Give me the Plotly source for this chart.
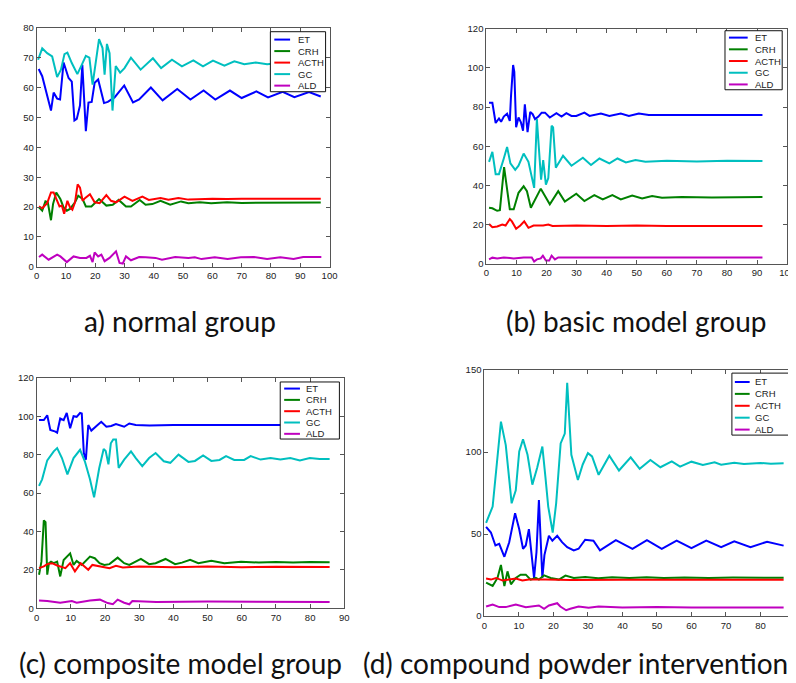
import plotly.graph_objects as go

W, H = 796, 683

names = ["ET", "CRH", "ACTH", "GC", "ALD"]
colors = ["#0000ff", "#008000", "#ff0000", "#00bfbf", "#bf00bf"]

# ---------------- panel a) normal group ----------------
a_et_x = [0.7, 1.9, 4.9, 5.8, 7, 8, 9.2, 10.9, 12, 12.9, 13.7, 14.8, 15.6, 16.8, 17.7, 18.8, 19.8, 21, 23, 24.3, 26.6, 29.9, 32.9, 35, 39, 43, 48, 52.5, 57, 61, 66, 70, 75, 79, 84, 88, 93, 97]
a_et_y = [66.2, 63.8, 52.3, 58.3, 56.3, 56, 68.4, 63.2, 62, 49, 49.5, 54, 67.6, 45.4, 55, 55.2, 61.6, 62.7, 54.8, 55.2, 56.7, 60.7, 55, 56, 60, 55.7, 59.5, 56, 59, 56, 59, 56.5, 58.7, 56.7, 58.6, 56.8, 58.5, 57]
a_crh_x = [0.8, 1.9, 3, 3.8, 4.9, 5.6, 6.7, 8.1, 9.2, 10.3, 11.4, 13.1, 14.2, 15.7, 16.8, 18.7, 21.3, 23.8, 26, 28, 30.5, 32.2, 35.2, 37.2, 39.5, 42.3, 45.6, 49.3, 51.8, 55.7, 59.6, 65, 70, 97]
a_crh_y = [19.9, 18.8, 21.9, 21.6, 15.6, 21, 24.9, 22.7, 19.9, 18.8, 19.4, 21.6, 23.8, 22.7, 20.2, 20.2, 22.7, 20.5, 20.8, 22.4, 20.2, 20.2, 22.4, 20.8, 21, 22.1, 20.8, 21.9, 21.3, 21.6, 21.3, 21.6, 21.4, 21.5]
a_acth_x = [0.8, 1.9, 3.6, 4.9, 5.8, 7, 7.8, 8.6, 9.4, 10.5, 11.4, 12.2, 13.1, 14, 14.8, 15.7, 16.5, 18.2, 19.8, 21.5, 23.8, 25.4, 27.1, 30, 32.7, 36.1, 38.3, 42.3, 45, 48.4, 51.8, 55, 60, 65, 70, 97]
a_acth_y = [20.2, 19.6, 21.3, 24.9, 24.9, 21.9, 20.2, 20.5, 17.8, 22.1, 19.9, 19.1, 21.6, 27.6, 26.5, 22.1, 23, 24.3, 21.6, 21.3, 24, 22.1, 21.6, 23.5, 22.1, 23.5, 22.4, 23, 22.5, 23, 22.5, 22.6, 22.8, 22.7, 22.8, 22.8]
a_gc_x = [0.5, 1.9, 3.6, 5.3, 7, 8.3, 9.5, 10.5, 12, 13.9, 15.4, 16.8, 18, 19.1, 21.3, 22.5, 23.2, 24, 24.9, 25.9, 27, 28.5, 30, 32.2, 35.5, 39.7, 42.5, 46.2, 49.6, 53.5, 56.8, 60.2, 64.1, 67.5, 70.9, 74.8, 78.7, 83, 87, 91, 97]
a_gc_y = [69.3, 73.1, 71.5, 70.4, 63.5, 66, 71.2, 71.7, 68.2, 64.5, 67.6, 70.6, 70, 61, 76.2, 73.2, 64.3, 74.6, 71.5, 52.3, 67.2, 65, 66.5, 70, 66, 69.8, 66.5, 69.3, 67.1, 69.1, 67.1, 69, 67.3, 68.8, 67.8, 68.4, 67.8, 68.2, 67.9, 68.1, 68]
a_ald_x = [0.8, 1.9, 4.1, 7, 8.1, 10.3, 12.6, 14.8, 17, 18.2, 19.1, 19.8, 21, 22.1, 23.2, 24.9, 27.1, 28.3, 29.4, 30.5, 32.2, 35, 37.2, 40.6, 42.8, 47.3, 51.8, 54, 56.3, 60.8, 65.2, 69.7, 74.2, 78.7, 83.2, 87.7, 91, 97.2]
a_ald_y = [3.3, 4.1, 2.4, 4.1, 3.5, 1.6, 3.5, 3, 3, 3.7, 1.6, 4.8, 3.5, 4.1, 1.9, 3, 5.2, 1.3, 1.1, 3.5, 2.2, 3.3, 3.2, 3, 2.4, 3.3, 3, 3.2, 2.6, 3.2, 2.6, 3.2, 3.3, 2.6, 3.2, 2.6, 3.3, 3.3]

# ---------------- panel b) basic model group ----------------
b_et_x = [0.9, 2, 3.1, 4.2, 4.9, 5.8, 6.9, 7.8, 8.2, 8.9, 9.3, 9.9, 10.7, 11.5, 12.2, 12.8, 13.7, 14.6, 15.4, 16.2, 17.3, 18.4, 19.5, 21.1, 23.3, 25, 26.6, 28.3, 29.9, 32.6, 34.3, 38.1, 40.9, 44.7, 47.4, 50.7, 54, 60, 91.8]
b_et_y = [82.2, 82.2, 71.9, 74.2, 72.5, 75.2, 76.7, 73, 85.6, 101.5, 98, 69.7, 74.7, 72.2, 68, 81.4, 67.2, 77.6, 76.4, 73.9, 75.2, 77.2, 77.2, 74.7, 76.9, 75.2, 76.9, 75.5, 75.5, 77.2, 75.5, 76.7, 75.5, 76.7, 75.5, 76.7, 76, 76, 76]
b_crh_x = [0.9, 2, 3.6, 4.5, 5.9, 7.8, 9.1, 10.7, 12.4, 13.5, 14.8, 16.2, 18.1, 21.1, 23.9, 26.1, 29.9, 32.6, 35.9, 38.7, 41.9, 44.7, 48.5, 51.8, 55.1, 58.4, 65, 75, 91.8]
b_crh_y = [28.7, 28.4, 27.1, 27.4, 49.4, 27.9, 27.9, 36.3, 39.6, 37.1, 28.7, 32.9, 38.4, 30.4, 37.1, 31.8, 35.8, 32.1, 35.1, 32.9, 35.1, 32.9, 34.9, 33.4, 34.6, 33.8, 34.2, 33.9, 34.1]
b_acth_x = [0.9, 2, 3.6, 5.3, 6.4, 7.8, 8.5, 9.9, 11.3, 12.6, 14, 15.7, 18.9, 20.6, 22, 30, 40, 50, 60, 91.8]
b_acth_y = [20.4, 18.7, 19.1, 20.1, 19.6, 22.9, 21.7, 17.9, 19.6, 21.7, 18.4, 19.6, 19.6, 20.1, 19.4, 19.6, 19.4, 19.6, 19.4, 19.4]
b_gc_x = [0.9, 2, 3.1, 4.2, 5.8, 6.9, 8, 9.6, 10.7, 12.4, 14, 15.1, 15.9, 16.8, 17.5, 18.2, 18.9, 19.8, 20.6, 21.7, 22.2, 23.1, 25.5, 28.3, 32.1, 34.8, 37.6, 40.9, 43.6, 46.4, 49.6, 52.9, 60, 70, 80, 91.8]
b_gc_y = [52.1, 57.2, 45.8, 45.8, 53.8, 59.7, 51.3, 48, 50.1, 56.3, 52.1, 44.6, 38.8, 73.9, 60.5, 43, 53, 40.4, 43.8, 70.5, 69.7, 49.1, 55.2, 50.1, 54.2, 50.5, 53.8, 51.3, 53.8, 51.8, 53, 52.1, 52.6, 52.3, 52.6, 52.5]
b_ald_x = [0.9, 2, 3.6, 5.8, 9.1, 12.4, 15.1, 15.9, 16.8, 18.1, 18.8, 19.8, 20.9, 21.7, 22.8, 23.9, 40, 60, 91.8]
b_ald_y = [2.3, 3.2, 2.8, 3.3, 2.8, 3.3, 3.3, 1.2, 2.3, 2.8, 4.2, 1.7, 1.7, 4.2, 2.3, 3.3, 3.3, 3.3, 3.3]

# ---------------- panel c) composite model group ----------------
c_et_x = [0.7, 2.1, 3.1, 4, 5.5, 6, 6.9, 7.9, 8.8, 9.8, 10.8, 11.7, 12.7, 13.2, 13.8, 14.4, 15.1, 16, 17.5, 18.9, 20.4, 21.8, 23.2, 25.6, 27.1, 29, 33, 40, 85.7]
c_et_y = [98.1, 98.1, 100.6, 92.9, 92.1, 91.5, 98.9, 98.1, 101.8, 93.8, 100.1, 99.8, 101.8, 101.5, 80.9, 77.5, 95.5, 92.6, 95, 97.2, 94.6, 95, 96, 94.6, 96.3, 95.5, 95.3, 95.5, 95.5]
c_crh_x = [0.7, 1.4, 2.1, 2.6, 3.1, 3.6, 4.2, 5, 6, 6.9, 7.9, 9.8, 10.8, 11.7, 13.2, 15.6, 17, 18.4, 19.8, 21.3, 23.7, 25.6, 27.1, 30.5, 32.9, 34.8, 37.7, 40.5, 42.5, 44.9, 47.3, 51.1, 54.9, 59.8, 65, 70, 75, 80, 85.7]
c_crh_y = [17.5, 24.3, 45.8, 44.9, 17.5, 23.5, 24.3, 23.5, 24.3, 16.6, 25.2, 28.6, 22.6, 24.7, 22.6, 26.9, 26.1, 23.5, 22.6, 23, 26.4, 23.5, 22.6, 25.7, 23, 23.5, 25.7, 23, 23.8, 25.2, 23.5, 24.7, 23.5, 24.3, 23.8, 24.1, 23.8, 24.1, 24]
c_acth_x = [0.7, 2.1, 3.1, 4.5, 6, 7.4, 8.4, 9.8, 11.2, 12.9, 14.1, 15.1, 16.3, 18.4, 21.3, 23.2, 25.2, 30, 40, 50, 60, 70, 85.7]
c_acth_y = [20.9, 21.8, 23, 23.5, 22.3, 21.3, 20.9, 23.5, 19.2, 23.5, 21.8, 20.1, 22.6, 21.8, 20.9, 22.1, 21.3, 21.8, 21.4, 21.8, 21.4, 21.7, 21.5]
c_gc_x = [0.7, 1.6, 3.1, 5, 6, 7.4, 9, 10.8, 12.7, 14.1, 15.6, 16.8, 18.3, 19.6, 20.2, 21, 21.7, 22.4, 23.2, 24, 25.6, 27.6, 29, 30.9, 32.9, 34.8, 37.2, 39.1, 41.5, 44.4, 46.3, 48.7, 51.1, 53.5, 55.4, 57.8, 60.7, 62.6, 65.5, 68.4, 71.3, 74.2, 77, 79.9, 82.8, 85.7]
c_gc_y = [63.8, 67.2, 77.1, 81.8, 83.5, 78.3, 69.8, 78.3, 82.6, 76.6, 67.2, 57.8, 73, 83, 82, 75, 86, 88, 88, 73.2, 77.5, 81.8, 78.3, 74.1, 78.3, 80.9, 76.6, 75.8, 80.1, 76.3, 76.8, 79.7, 76.8, 77.3, 79.3, 77.3, 77.3, 79.3, 77.5, 78.3, 77.5, 78.3, 77.1, 78.3, 77.8, 77.8]
c_ald_x = [0.7, 3.1, 6.9, 10.3, 11.7, 15.6, 18.5, 20.8, 22.3, 23.7, 25.6, 27.1, 28, 35, 50, 65, 85.7]
c_ald_y = [4.1, 3.8, 2.9, 3.8, 2.9, 4.1, 4.5, 2.7, 2.1, 4.5, 2.9, 2.1, 3.8, 3.3, 3.5, 3.3, 3.3]

# ---------------- panel d) compound powder intervention group ----------------
d_et_x = [0.5, 1.9, 3.2, 4.3, 5.8, 7.2, 8.9, 10.1, 11.2, 12, 12.9, 13.7, 14.4, 15.1, 15.8, 16.3, 16.8, 17.4, 18.7, 19.7, 21.1, 22.5, 24, 25.9, 27.3, 29.2, 31.6, 33.5, 38.1, 42.9, 47.1, 51.4, 55.7, 60, 64.3, 68.6, 72.4, 77.1, 81.9, 86.7]
d_et_y = [54.5, 51, 43.1, 44.1, 36.2, 45.1, 62.8, 53, 41.1, 43.1, 53, 35.2, 23.3, 39.1, 70.8, 47, 23.3, 37.2, 49, 46, 49, 45.1, 42.1, 40.1, 41.1, 46.6, 46, 40.1, 46.4, 41, 46.4, 41, 46, 41.4, 46, 42, 45.6, 42, 45.4, 43]
d_crh_x = [0.5, 2.4, 3.8, 4.8, 5.8, 6.7, 7.7, 9.1, 10.5, 12, 13.4, 14.9, 15.8, 17.3, 19.2, 21.6, 23.5, 25.9, 29.2, 33, 37, 42, 47, 52, 58, 65, 72, 80, 86.7]
d_crh_y = [20.4, 18.4, 23.3, 31.2, 18.4, 27.3, 19.4, 23.3, 25.3, 25.3, 22.3, 23.3, 22.3, 24.9, 23.3, 22.3, 24.7, 23.3, 23.9, 23.1, 23.7, 23.2, 23.7, 23.2, 23.6, 23.3, 23.5, 23.4, 23.4]
d_acth_x = [0.5, 1.9, 3.4, 5.3, 7.2, 9.1, 11, 12.9, 17.7, 25, 40, 60, 86.7]
d_acth_y = [22.9, 22.3, 23.3, 21.7, 22.3, 22.9, 21.7, 22.3, 22.3, 22.1, 22.2, 22.1, 22.2]
d_gc_x = [0.5, 2.4, 4.8, 6.2, 7.9, 9.1, 10.1, 11.2, 12.5, 13.9, 15.3, 16.8, 17.7, 18.5, 19.8, 20.8, 22.1, 23.3, 24, 24.6, 25.2, 27.1, 28.5, 30, 31.2, 33.1, 36.2, 39, 42.4, 45, 48.1, 51, 54.3, 56.7, 60, 63.3, 66.7, 68.6, 72.4, 75.2, 80, 83, 86.7]
d_gc_y = [56.9, 66.8, 118.6, 104.3, 68.8, 76.7, 100.4, 107.9, 98.4, 80.2, 90.5, 103.4, 84.6, 66.8, 51, 68.8, 105.3, 111.3, 142.3, 123.1, 98.4, 83, 92.5, 99.4, 97.4, 86.2, 97.8, 88.8, 96.8, 89.8, 95.2, 90.8, 94.4, 91.2, 94.2, 92.2, 93.8, 92.4, 93.6, 92.8, 93.4, 93, 93.2]
d_ald_x = [0.5, 2.4, 4.3, 6.2, 9.1, 12, 15.8, 17.3, 18.7, 21.1, 22, 23.7, 24.9, 27.3, 30.2, 33.1, 40, 50, 60, 70, 86.7]
d_ald_y = [5.9, 7.1, 5.5, 5.5, 7.1, 5.5, 6.5, 4.5, 6.5, 7.9, 5.9, 3.6, 4.5, 5.9, 5.1, 5.9, 5.3, 5.5, 5.2, 5.4, 5.3]

a_ticks_x = [0, 10, 20, 30, 40, 50, 60, 70, 80, 90, 100]
a_ticks_y = [0, 10, 20, 30, 40, 50, 60, 70, 80]
b_ticks_x = [0, 10, 20, 30, 40, 50, 60, 70, 80, 90, 100]
b_ticks_y = [0, 20, 40, 60, 80, 100, 120]
c_ticks_x = [0, 10, 20, 30, 40, 50, 60, 70, 80, 90]
c_ticks_y = [0, 20, 40, 60, 80, 100, 120]
d_ticks_x = [0, 10, 20, 30, 40, 50, 60, 70, 80, 90]
d_ticks_y = [0, 50, 100, 150]

captions = ["a) normal group", "(b) basic model group",
            "(c) composite model group", "(d) compound powder intervention group"]

# ---------------- layout helpers (pixel geometry) ----------------
def px(x):
    return x / W

def py(y):
    return 1 - y / H

panels = [
    dict(ax="", series=[(a_et_x, a_et_y), (a_crh_x, a_crh_y), (a_acth_x, a_acth_y), (a_gc_x, a_gc_y), (a_ald_x, a_ald_y)],
         box=(26, 14, 323, 257), xr=[0, 100], yr=[0, 80], tx=a_ticks_x, ty=a_ticks_y,
         leg=dict(box=(263, 18, 319, 79), y0=26, dy=11.7, lx=(267, 283), tx=289)),
    dict(ax="2", series=[(b_et_x, b_et_y), (b_crh_x, b_crh_y), (b_acth_x, b_acth_y), (b_gc_x, b_gc_y), (b_ald_x, b_ald_y)],
         box=(482, 15, 787, 254), xr=[0, 100], yr=[0, 120], tx=b_ticks_x, ty=b_ticks_y,
         leg=dict(box=(724, 17, 782, 77), y0=24, dy=11.9, lx=(728, 747), tx=752)),
    dict(ax="3", series=[(c_et_x, c_et_y), (c_crh_x, c_crh_y), (c_acth_x, c_acth_y), (c_gc_x, c_gc_y), (c_ald_x, c_ald_y)],
         box=(26, 370, 338, 604), xr=[0, 90], yr=[0, 120], tx=c_ticks_x, ty=c_ticks_y,
         leg=dict(box=(273, 374, 333, 432), y0=380.7, dy=11.5, lx=(277, 293), tx=297)),
    dict(ax="4", series=[(d_et_x, d_et_y), (d_crh_x, d_crh_y), (d_acth_x, d_acth_y), (d_gc_x, d_gc_y), (d_ald_x, d_ald_y)],
         box=(480, 362, 795, 612), xr=[0, 90], yr=[0, 150], tx=d_ticks_x, ty=d_ticks_y,
         leg=dict(box=(731, 365, 791, 428), y0=374, dy=12.1, lx=(734, 749), tx=752)),
]

fig = go.Figure()
shapes = []
annotations = []
axis_font = dict(family="Liberation Sans, Arial, sans-serif", size=9.5, color="#222")
frame = "#555"

for p in panels:
    for (xs, ys), nm, col in zip(p["series"], names, colors):
        fig.add_trace(go.Scatter(x=xs, y=ys, mode="lines", name=nm,
                                 line=dict(color=col, width=2),
                                 xaxis="x" + p["ax"], yaxis="y" + p["ax"],
                                 showlegend=False, hoverinfo="skip"))
    x0, y0, x1, y1 = p["box"]
    common = dict(showline=True, linecolor=frame, linewidth=1, mirror="ticks",
                  ticks="inside", ticklen=4, tickcolor=frame, tickwidth=1,
                  showgrid=False, zeroline=False, tickfont=axis_font, fixedrange=True)
    fig.layout["xaxis" + p["ax"]] = dict(domain=[px(x0), px(x1)], range=p["xr"],
                                         tickvals=p["tx"], anchor="y" + p["ax"], **common)
    fig.layout["yaxis" + p["ax"]] = dict(domain=[py(y1), py(y0)], range=p["yr"],
                                         tickvals=p["ty"], anchor="x" + p["ax"], **common)
    # legend box (MATLAB style)
    L = p["leg"]
    bx0, by0, bx1, by1 = L["box"]
    shapes.append(dict(type="rect", xref="paper", yref="paper",
                       x0=px(bx0), x1=px(bx1), y0=py(by1), y1=py(by0),
                       fillcolor="white", line=dict(color="#111", width=1), layer="above"))
    for i, (nm, col) in enumerate(zip(names, colors)):
        yy = L["y0"] + i * L["dy"]
        shapes.append(dict(type="line", xref="paper", yref="paper",
                           x0=px(L["lx"][0]), x1=px(L["lx"][1]), y0=py(yy), y1=py(yy),
                           line=dict(color=col, width=2), layer="above"))
        annotations.append(dict(text=nm, xref="paper", yref="paper", x=px(L["tx"]), y=py(yy),
                                xanchor="left", yanchor="middle", showarrow=False,
                                font=dict(family="Liberation Sans, Arial, sans-serif", size=9.5, color="#222")))

cap_font = dict(family="Lato, Noto Sans, sans-serif", size=28, color="#111")
annotations.append(dict(text=captions[0], xref="paper", yref="paper", x=px(171), y=py(312),
                        xanchor="center", yanchor="middle", showarrow=False, font=cap_font))
annotations.append(dict(text=captions[1], xref="paper", yref="paper", x=px(634), y=py(312),
                        xanchor="center", yanchor="middle", showarrow=False, font=cap_font))
annotations.append(dict(text=captions[2], xref="paper", yref="paper", x=px(172), y=py(660),
                        xanchor="center", yanchor="middle", showarrow=False, font=cap_font))
annotations.append(dict(text=captions[3], xref="paper", yref="paper", x=px(355), y=py(660),
                        xanchor="left", yanchor="middle", showarrow=False, font=cap_font))

fig.update_layout(width=W, height=H, margin=dict(l=0, r=0, t=0, b=0),
                  paper_bgcolor="white", plot_bgcolor="white",
                  shapes=shapes, annotations=annotations, showlegend=False)

fig.write_html("out.html", config={"displayModeBar": False})
